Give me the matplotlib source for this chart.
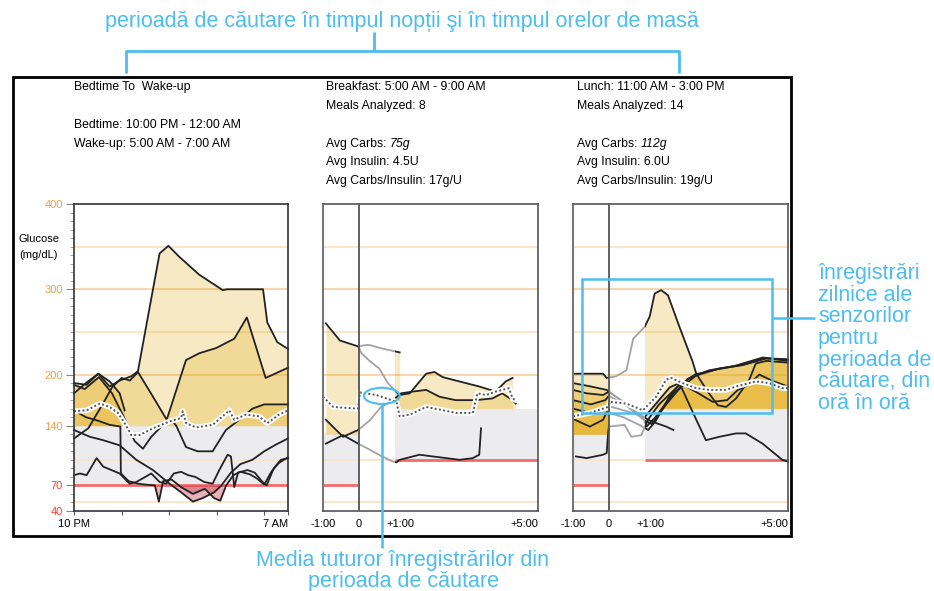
import matplotlib
matplotlib.use("Agg")
import numpy as np
import matplotlib.pyplot as plt
from matplotlib.patches import Rectangle, Ellipse
from matplotlib.lines import Line2D

plt.rcParams['font.family'] = ['Liberation Sans', 'DejaVu Sans']

# ---- date (ore de la 22:00 pentru noapte, ore fata de masa pentru mese) ----
noapte_1_x = [0, 0.53, 1.02, 1.5, 1.92, 2.41, 2.69, 3.11, 3.6, 3.97, 4.43, 5.27, 6.04, 6.25, 6.44, 6.7, 7.95, 8.13, 8.55, 9.0]
noapte_1_y = [190, 188, 201, 186, 193, 198, 204, 268, 342, 351, 338, 317, 303, 299, 300, 300, 300, 261, 238, 230]
noapte_2_x = [0, 0.6, 1.2, 1.6, 2.0, 2.35, 2.69, 3.3, 3.9, 4.71, 5.27, 5.97, 6.74, 7.27, 8.06, 9.0]
noapte_2_y = [125, 137, 165, 185, 196, 193, 203, 175, 147, 217, 225, 231, 242, 267, 196, 208]
noapte_3_x = [0, 0.5, 1.02, 1.5, 1.92, 2.13]
noapte_3_y = [178, 190, 201, 192, 178, 158]
noapte_4_x = [0, 0.67, 1.23, 1.92, 2.62, 3.32, 4.02, 4.5, 5.0, 5.4, 5.9, 6.2, 6.6, 7.0, 7.5, 8.0, 8.5, 9.0]
noapte_4_y = [135, 127, 123, 117, 100, 88, 72, 62, 51, 55, 62, 70, 85, 95, 100, 110, 118, 125]
noapte_5_x = [0, 0.45, 1.05, 1.6, 2.1, 2.55, 2.9, 3.25, 3.88, 4.1, 4.3, 4.71, 5.2, 5.83, 6.39, 7.0, 7.5, 8.0, 9.0]
noapte_5_y = [188, 183, 197, 178, 150, 122, 113, 127, 145, 147, 140, 115, 110, 110, 135, 148, 160, 165, 165]
noapte_6_x = [0, 0.25, 0.53, 0.95, 1.23, 1.92, 2.34, 2.62, 3.25, 3.6, 3.88, 4.2, 4.5, 4.8, 5.1, 5.48, 5.83, 6.11, 6.46, 6.6, 6.74, 6.9, 7.3, 7.6, 7.9, 8.1, 8.4, 8.7, 9.0]
noapte_6_y = [82, 84, 82, 102, 92, 84, 72, 74, 84, 74, 72, 84, 86, 82, 80, 74, 72, 88, 106, 104, 68, 85, 88, 85, 75, 70, 90, 100, 102]
noapte_7_x = [0, 0.5, 1.0, 1.5, 1.95, 1.97, 2.3, 2.7, 3.0, 3.4, 3.57, 3.75, 4.1, 4.5, 5.0, 5.5, 5.9, 6.15, 6.4, 6.7, 7.0, 7.4, 7.7, 8.0, 8.3, 8.6, 9.0]
noapte_7_y = [158, 150, 146, 141, 139, 84, 75, 72, 71, 70, 51, 75, 77, 68, 60, 66, 55, 52, 70, 82, 86, 83, 78, 71, 86, 96, 103]
noapte_medie_x = [0, 0.53, 1.09, 1.5, 1.85, 2.13, 2.41, 2.76, 3.32, 4.02, 4.5, 4.57, 4.71, 5.13, 5.83, 6.25, 6.53, 6.74, 7.22, 7.78, 8.13, 8.62, 9.0]
noapte_medie_y = [157, 158, 166, 162, 155, 143, 129, 129, 137, 145, 149, 157, 143, 138, 141, 151, 158, 147, 153, 151, 143, 153, 158]

mic_dejun_1_x = [-0.92, -0.53, -0.02, 0.26, 0.7, 1.14]
mic_dejun_1_y = [260, 240, 233, 235, 230, 226]
mic_dejun_2_x = [0.0, 0.07, 0.3, 0.57, 0.81, 1.13, 1.42, 1.88, 2.11, 2.34, 2.8, 3.36, 3.82, 4.1, 4.29]
mic_dejun_2_y = [232, 225, 216, 207, 190, 176, 178, 201, 203, 197, 192, 186, 180, 192, 196]
mic_dejun_3_x = [-0.92, -0.44, -0.02, 0.3, 0.62, 0.9, 1.18, 1.5, 1.88, 2.25, 2.7, 3.27, 3.73, 4.0, 4.29, 4.38]
mic_dejun_3_y = [147, 127, 135, 146, 162, 168, 178, 180, 182, 174, 170, 170, 172, 178, 170, 166]
mic_dejun_4_x = [-0.92, -0.44, -0.02, 0.3, 0.6, 0.95, 1.05, 1.14, 1.51, 1.69, 2.06, 2.44, 2.81, 3.18, 3.36, 3.41]
mic_dejun_4_y = [119, 129, 119, 112, 105, 98, 97, 100, 104, 106, 104, 102, 100, 102, 106, 137]
mic_dejun_medie_x = [-1, -0.71, -0.02, 0.03, 0.49, 1.05, 1.14, 1.42, 1.88, 2.25, 2.71, 3.18, 3.31, 3.55, 3.82, 4.19, 4.29, 4.38]
mic_dejun_medie_y = [174, 162, 160, 179, 176, 168, 151, 153, 162, 159, 155, 155, 178, 176, 180, 184, 172, 170]

pranz_1_x = [-1, -0.16, -0.06, 0.2, 0.49, 0.68, 1.0, 1.14, 1.28, 1.46, 1.65, 1.97, 2.34, 2.44, 2.76, 3.04, 3.27, 3.55, 3.92, 4.1, 4.4, 5.0]
pranz_1_y = [201, 201, 196, 198, 205, 242, 256, 268, 295, 299, 293, 256, 215, 201, 180, 164, 162, 172, 194, 213, 216, 214]
pranz_2_x = [-1, -0.62, -0.16, 0.0, 0.5, 0.95, 1.05, 1.3, 1.8, 2.44, 3.08, 3.73, 4.19, 4.38, 5.0]
pranz_2_y = [182, 178, 176, 180, 165, 150, 139, 150, 178, 199, 207, 211, 217, 219, 217]
pranz_3_x = [-1, -0.5, -0.1, 0.0, 0.5, 1.0, 1.2, 1.6, 2.2, 2.8, 3.5, 4.3, 5.0]
pranz_3_y = [170, 165, 170, 175, 163, 146, 142, 165, 195, 205, 210, 220, 216]
pranz_4_x = [-1, -0.53, -0.16, -0.06, 0.4, 0.8, 1.1, 1.3, 1.7, 2.0, 2.5, 2.9, 3.3, 3.6, 3.9, 4.2, 4.6, 5.0]
pranz_4_y = [148, 139, 147, 156, 150, 142, 135, 145, 175, 190, 178, 168, 170, 182, 188, 200, 192, 186]
pranz_5_x = [-1, -0.6, -0.2, 0.0, 0.5, 1.0, 1.4, 1.7, 1.97, 2.44, 2.71, 3.08, 3.55, 3.82, 4.29, 4.84, 5.0]
pranz_5_y = [160, 156, 158, 163, 157, 150, 170, 185, 190, 147, 123, 127, 131, 131, 119, 100, 98]
pranz_6_x = [-0.92, -0.62, -0.16, -0.06, -0.02, 0.0, 0.44, 0.63, 0.91, 1.09, 1.4, 1.9, 2.4, 3.0, 3.8, 4.4, 5.0]
pranz_6_y = [104, 102, 106, 108, 131, 139, 141, 127, 129, 147, 165, 185, 200, 206, 212, 219, 218]
pranz_7_x = [-1, -0.5, -0.06, 0.4, 0.77, 1.19, 1.6, 1.8]
pranz_7_y = [190, 186, 182, 168, 155, 145, 139, 135]
pranz_medie_x = [-1, -0.53, -0.02, 0.03, 0.49, 0.95, 1.32, 1.6, 1.74, 2.06, 2.44, 2.81, 3.27, 3.55, 4.1, 4.47, 4.84, 5.0]
pranz_medie_y = [151, 155, 162, 168, 166, 158, 174, 194, 196, 190, 184, 182, 182, 186, 192, 190, 184, 184]

y_ticks = [40, 70, 140, 200, 300, 400]
y_tick_colors = ['#ff3b30', '#ff3b30', '#e3a54a', '#e3a54a', '#e3a54a', '#e3a54a']

W, H = 934, 591
BLUE = '#4dbdf0'
GOLD = '#e3ab14'
BAND = '#ececef'
RED = '#f26b6b'
FS_HEAD = 8.8
FS_BLUE = 15.5

fig = plt.figure(figsize=(W / 100, H / 100), dpi=100)


def fp(x, y):
    return x / W, 1 - y / H


def make_ax(left, right):
    return fig.add_axes([left / W, (H - 511) / H, (right - left) / W, 307 / H])


def clip_rect(ax, x0, x1):
    return Rectangle((x0, 0), x1 - x0, 1000, transform=ax.transData)


def fundal(ax, x0, x1, zone):
    for a, b, lo, hi in zone:
        ax.fill_between([a, b], [lo, lo], [hi, hi], color=BAND, lw=0, zorder=0.5)
        ax.plot([a, b], [lo, lo], color=RED, lw=2, zorder=1, solid_capstyle='butt')
    for v in [50, 100, 250, 350]:
        ax.axhline(v, color='#fbe4c8', lw=1.5, zorder=0.7, alpha=0.9)
    for v in [200, 300]:
        ax.axhline(v, color='#f7d3a4', lw=1.5, zorder=0.7, alpha=0.9)
    ax.set_xlim(x0, x1)
    ax.set_ylim(40, 400)


def traseu(ax, x, y, segs):
    x = np.array(x, float)
    y = np.array(y, float)
    for a, b, col, hi, lo in segs:
        ln, = ax.plot(x, y, color=col, lw=1.3, zorder=3)
        ln.set_clip_path(clip_rect(ax, a, b))
        if hi is not None:
            f = ax.fill_between(x, y, hi, where=y > hi, interpolate=True,
                                color=GOLD, alpha=0.25, lw=0, zorder=2)
            f.set_clip_path(clip_rect(ax, a, b))
        if lo is not None:
            f = ax.fill_between(x, y, lo, where=y < lo, interpolate=True,
                                color='#c8404e', alpha=0.4, lw=0, zorder=2)
            f.set_clip_path(clip_rect(ax, a, b))


def medie(ax, x, y):
    ax.plot(x, y, color='white', lw=4, zorder=4, solid_capstyle='round')
    ax.plot(x, y, color='#555555', lw=1.4, ls=(0, (1, 1.2)), zorder=4.5)


def stil(ax, col='#555555'):
    for s in ax.spines.values():
        s.set_color(col)
        s.set_linewidth(1.2)
        s.set_zorder(6)


# ---- panou noapte ----
ax1 = make_ax(74, 288)
fundal(ax1, 0, 9, [(0, 9, 70, 140)])
seg_noapte = [(-1, 10, '#222222', 140, 70)]
for xs, ys in [(noapte_1_x, noapte_1_y), (noapte_2_x, noapte_2_y), (noapte_3_x, noapte_3_y),
               (noapte_4_x, noapte_4_y), (noapte_5_x, noapte_5_y), (noapte_6_x, noapte_6_y),
               (noapte_7_x, noapte_7_y)]:
    traseu(ax1, xs, ys, seg_noapte)
medie(ax1, noapte_medie_x, noapte_medie_y)
stil(ax1, '#333333')
ax1.set_yticks(y_ticks)
ax1.set_yticklabels([str(v) for v in y_ticks], fontsize=8)
for lab, c in zip(ax1.get_yticklabels(), y_tick_colors):
    lab.set_color(c)
ax1.set_yticks(range(40, 401, 10), minor=True)
ax1.tick_params(axis='y', which='major', length=6, color='#888888', pad=2)
ax1.tick_params(axis='y', which='minor', length=3, color='#999999')
ax1.set_xticks([0, 2, 4, 6, 8, 9])
ax1.set_xticklabels(['10 PM', '', '', '', '', '7 AM'], fontsize=8)
ax1.get_xticklabels()[-1].set_ha('right')
ax1.tick_params(axis='x', length=3, color='#555555', pad=3)


# ---- panouri mese ----
def panou_masa(left, right, trasee, mx, my):
    ax = make_ax(left, right)
    fundal(ax, -1, 5, [(-1, 0, 70, 130), (1, 5, 100, 160)])
    segs = [(-2, 0, '#222222', 130, 70), (0, 1, '#a3a3a3', None, None), (1, 6, '#222222', 160, None)]
    for xs, ys in trasee:
        traseu(ax, xs, ys, segs)
    medie(ax, mx, my)
    ax.axvline(0, color='#555555', lw=1.3, zorder=5)
    stil(ax)
    ax.spines['left'].set_color('#777777')
    ax.spines['left'].set_linewidth(1.5)
    ax.set_yticks([])
    ax.set_xticks([-1, 0, 1.17, 5])
    ax.set_xticklabels(['-1:00', '0', '+1:00', '+5:00'], fontsize=8)
    ax.get_xticklabels()[-1].set_ha('right')
    ax.tick_params(axis='x', length=0, pad=6)
    return ax


ax2 = panou_masa(323, 538,
                 [(mic_dejun_1_x, mic_dejun_1_y), (mic_dejun_2_x, mic_dejun_2_y),
                  (mic_dejun_3_x, mic_dejun_3_y), (mic_dejun_4_x, mic_dejun_4_y)],
                 mic_dejun_medie_x, mic_dejun_medie_y)
ax3 = panou_masa(573, 788,
                 [(pranz_1_x, pranz_1_y), (pranz_2_x, pranz_2_y), (pranz_3_x, pranz_3_y),
                  (pranz_4_x, pranz_4_y), (pranz_5_x, pranz_5_y), (pranz_6_x, pranz_6_y),
                  (pranz_7_x, pranz_7_y)],
                 pranz_medie_x, pranz_medie_y)


# ---- texte antet ----
def txt(x, y, s, **kw):
    return fig.text(*fp(x, y), s, fontsize=FS_HEAD, va='center', ha='left', **kw)


txt(74, 87, 'Bedtime To  Wake-up')
txt(74, 125, 'Bedtime: 10:00 PM - 12:00 AM')
txt(74, 144, 'Wake-up: 5:00 AM - 7:00 AM')
for x0, titlu, nr, carbs, ins, rap in [(326, 'Breakfast: 5:00 AM - 9:00 AM', '8', '75g', '4.5U', '17g/U'),
                                       (577, 'Lunch: 11:00 AM - 3:00 PM', '14', '112g', '6.0U', '19g/U')]:
    txt(x0, 87, titlu)
    txt(x0, 106, 'Meals Analyzed: ' + nr)
    t = txt(x0, 144, 'Avg Carbs: ')
    fig.add_artist(matplotlib.text.Annotation(carbs, xy=(1, 0.5), xycoords=t, va='center', ha='left',
                                              fontsize=FS_HEAD, style='italic'))
    txt(x0, 162, 'Avg Insulin: ' + ins)
    txt(x0, 181, 'Avg Carbs/Insulin: ' + rap)

fig.text(*fp(39, 239), 'Glucose', fontsize=8, ha='center', va='center')
fig.text(*fp(39, 255), '(mg/dL)', fontsize=8, ha='center', va='center')

# ---- chenar exterior ----
fig.add_artist(Rectangle(fp(13, 536), 778 / W, 459 / H, fill=False, lw=2, ec='black',
                         transform=fig.transFigure))


# ---- adnotari albastre ----
def linie(pts, lw=2):
    xs = [p[0] / W for p in pts]
    ys = [1 - p[1] / H for p in pts]
    fig.add_artist(Line2D(xs, ys, color=BLUE, lw=lw, transform=fig.transFigure,
                          solid_capstyle='butt'))


fig.text(*fp(402, 21), 'perioadă de căutare în timpul nopții şi în timpul orelor de masă',
         color=BLUE, fontsize=FS_BLUE, ha='center', va='center')
linie([(126, 73), (126, 51), (679, 51), (679, 73)])
linie([(374, 32), (374, 51)])

ax3.add_patch(Rectangle((-0.75, 155), 5.31, 157, fill=False, ec=BLUE, lw=1.8,
                        clip_on=False, zorder=7))
linie([(773, 318), (815, 318)], lw=1.8)
fig.text(*fp(818, 263), 'înregistrări\nzilnice ale\nsenzorilor\npentru\nperioada de\ncăutare, din\noră în oră',
         color=BLUE, fontsize=FS_BLUE, ha='left', va='top', linespacing=1.04)

ax2.add_patch(Ellipse((0.64, 175), 1.0, 19, fill=False, ec=BLUE, lw=1.5, clip_on=False, zorder=7))
linie([(382, 404), (382, 548)], lw=1.8)
fig.text(*fp(403, 571), 'Media tuturor înregistrărilor din\nperioada de căutare',
         color=BLUE, fontsize=FS_BLUE, ha='center', va='center', multialignment='center',
         linespacing=0.95)

fig.savefig('out.png', dpi=100)
